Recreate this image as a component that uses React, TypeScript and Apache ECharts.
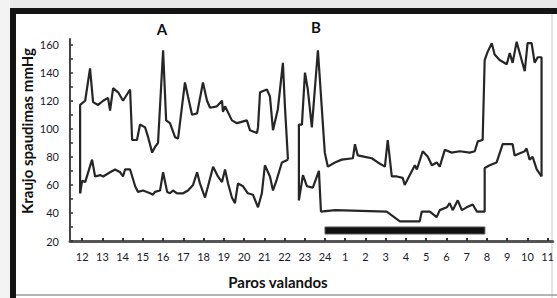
import React, { useEffect, useRef } from "react";
import * as echarts from "echarts";

// hours after 12:00 (0 = 12 h, 12 = 24 h, 13 = 1 h ...)
const hourTicks = [0, 1, 2, 3, 4, 5, 6, 7, 8, 9, 10, 11, 12, 13, 14, 15, 16, 17, 18, 19, 20, 21, 22, 23];
const yLabelValues = [20, 40, 60, 80, 100, 120, 140, 160];
const yTickValues = [20, 30, 40, 50, 60, 70, 80, 90, 100, 110, 120, 130, 140, 150, 160];

// systolic pressure [hour, mmHg]
const systolic: [number, number | null][] = [
  [-0.1, 54], [-0.1, 117], [0.15, 120], [0.39, 143], [0.54, 119], [0.79, 117], [1.04, 120], [1.28, 122],
  [1.38, 113], [1.53, 129], [1.78, 126], [2.02, 120], [2.37, 128], [2.47, 92], [2.71, 92], [2.86, 103],
  [3.11, 101], [3.26, 94], [3.46, 83], [3.6, 87], [3.75, 90], [4.0, 156], [4.15, 106], [4.34, 104],
  [4.59, 94], [4.74, 93], [5.08, 133], [5.23, 123], [5.43, 110], [5.68, 111], [5.97, 133], [6.17, 120],
  [6.32, 115], [6.66, 116], [6.91, 120], [6.96, 112], [7.06, 116], [7.4, 106], [7.65, 104], [8.14, 106],
  [8.29, 99], [8.64, 97], [8.69, 101], [8.79, 126], [9.13, 128], [9.28, 123], [9.43, 99], [9.67, 114],
  [9.92, 147], [10.02, 116], [10.17, 78], [10.45, null],
  [10.71, 49], [10.71, 103], [10.86, 103], [11.01, 140], [11.15, 128], [11.35, 101], [11.65, 156],
  [11.99, 83], [12.14, 73], [12.49, 76], [12.83, 78], [13.38, 79], [13.48, 89], [13.62, 81], [13.97, 80],
  [14.31, 79], [14.61, 76], [14.96, 73], [15.1, 92], [15.3, 66], [15.55, 66], [15.84, 65], [15.94, 60],
  [16.19, 67], [16.44, 74], [16.54, 71], [16.83, 84], [17.08, 80], [17.28, 74], [17.52, 76], [17.67, 73],
  [17.92, 85], [18.26, 83], [18.66, 84], [19.15, 83], [19.4, 84], [19.55, 91], [19.79, 92], [19.89, 149],
  [20.04, 155], [20.24, 161], [20.38, 153], [20.63, 149], [20.98, 146], [21.13, 154], [21.27, 147],
  [21.47, 162], [21.62, 154], [21.87, 141], [22.01, 161], [22.21, 161], [22.36, 147], [22.51, 151],
  [22.7, 151], [22.7, 66],
];

// diastolic pressure [hour, mmHg]
const diastolic: [number, number | null][] = [
  [-0.1, 54], [0.0, 63], [0.15, 62], [0.49, 78], [0.64, 66], [0.89, 67], [1.04, 66], [1.38, 69],
  [1.63, 71], [1.88, 69], [2.02, 66], [2.12, 71], [2.37, 71], [2.62, 59], [2.76, 55], [3.01, 56],
  [3.36, 54], [3.5, 53], [3.6, 55], [3.85, 56], [4.0, 69], [4.2, 55], [4.34, 54], [4.49, 56],
  [4.69, 54], [4.99, 54], [5.23, 56], [5.48, 60], [5.68, 69], [5.82, 61], [6.07, 51], [6.22, 59],
  [6.47, 73], [6.71, 66], [6.91, 62], [7.06, 71], [7.21, 61], [7.4, 51], [7.55, 47], [7.7, 61],
  [7.95, 59], [8.19, 54], [8.44, 53], [8.69, 44], [8.88, 54], [9.03, 74], [9.28, 66], [9.43, 56],
  [9.62, 64], [9.87, 76], [10.17, 78], [10.45, null],
  [10.71, 49], [10.91, 67], [11.11, 59], [11.4, 58], [11.7, 70], [11.8, 41], [12.5, 42], [15.05, 41],
  [15.7, 34], [16.68, 34], [16.78, 41], [17.18, 41], [17.52, 37], [17.67, 42], [18.02, 44], [18.16, 47],
  [18.31, 42], [18.56, 49], [18.76, 42], [19.0, 44], [19.3, 46], [19.5, 41], [19.89, 41], [19.89, 72],
  [20.14, 74], [20.48, 76], [20.78, 89], [21.27, 89], [21.37, 81], [21.87, 84], [21.96, 86], [22.11, 78],
  [22.26, 80], [22.46, 71], [22.7, 66],
];

// sleep period bar: [startHour, endHour], [low, high] mmHg
const sleepHours = [12.0, 19.9];
const sleepBand = [25, 30];

const FONT = "Lato, 'Liberation Sans', sans-serif";

export default function App() {
  const ref = useRef<HTMLDivElement>(null);
  useEffect(() => {
    if (!ref.current) return;
    const chart = echarts.init(ref.current, null, { renderer: "svg" });
    const lineStyle = { color: "#262626", width: 2.2 };
    chart.setOption({
      animation: false,
      backgroundColor: "#ffffff",
      grid: { left: 70, top: 39, right: 4, bottom: 57 },
      xAxis: {
        type: "value",
        min: -0.6,
        max: 23.25,
        splitLine: { show: false },
        axisLine: { show: true, onZero: false, lineStyle: { color: "#555", width: 3 } },
        axisTick: { show: true, inside: true, length: 3, customValues: hourTicks, lineStyle: { color: "#333", width: 2 } },
        axisLabel: {
          customValues: hourTicks,
          margin: 10,
          fontSize: 11,
          color: "#1a1a2a",
          fontFamily: FONT,
          formatter: (v: number) => String(((Math.round(v) + 12 - 1) % 24) + 1),
        },
      },
      yAxis: {
        type: "value",
        min: 20,
        max: 164,
        splitLine: { show: false },
        axisLine: { show: true, onZero: false, lineStyle: { color: "#444", width: 2 } },
        axisTick: { show: true, inside: true, length: 3, customValues: yTickValues, lineStyle: { color: "#333", width: 1.5 } },
        axisLabel: {
          customValues: yLabelValues,
          margin: 11,
          fontSize: 11,
          color: "#1a1a2a",
          fontFamily: FONT,
        },
      },
      series: [
        {
          type: "line",
          data: systolic,
          showSymbol: false,
          connectNulls: false,
          lineStyle,
          z: 3,
          markArea: {
            silent: true,
            itemStyle: { color: "#111", borderColor: "#555", borderWidth: 1 },
            data: [[
              { xAxis: sleepHours[0], yAxis: sleepBand[1] },
              { xAxis: sleepHours[1], yAxis: sleepBand[0] },
            ]],
          },
        },
        {
          type: "line",
          data: diastolic,
          showSymbol: false,
          connectNulls: false,
          lineStyle,
          z: 3,
        },
      ],
      graphic: [
        { type: "rect", shape: { x: 0, y: 0, width: 557, height: 8 }, style: { fill: "#e9e9e9" }, silent: true },
        { type: "rect", shape: { x: 0, y: 0, width: 10, height: 298 }, style: { fill: "#f3f3f3" }, silent: true },
        { type: "rect", shape: { x: 10, y: 8, width: 547, height: 6 }, style: { fill: "#141414" }, silent: true },
        { type: "rect", shape: { x: 10, y: 8, width: 6, height: 290 }, style: { fill: "#141414" }, silent: true },
        { type: "line", shape: { x1: 552, y1: 14, x2: 552, y2: 298 }, style: { stroke: "#c8c8c8", lineWidth: 1 }, silent: true },
        { type: "line", shape: { x1: 16, y1: 295, x2: 557, y2: 295 }, style: { stroke: "#9a9a9a", lineWidth: 1.5 }, silent: true },
        {
          type: "text", x: 162, y: 29,
          style: { text: "A", fontSize: 15, fontWeight: "bold", fill: "#111", fontFamily: FONT, align: "center", verticalAlign: "middle" },
        },
        {
          type: "text", x: 316, y: 27,
          style: { text: "B", fontSize: 15, fontWeight: "bold", fill: "#111", fontFamily: FONT, align: "center", verticalAlign: "middle" },
        },
        {
          type: "text", x: 278, y: 282,
          style: { text: "Paros valandos", fontSize: 15, fontWeight: "bold", fill: "#111", fontFamily: FONT, align: "center", verticalAlign: "middle" },
        },
        {
          type: "text", x: 27, y: 131, rotation: Math.PI / 2,
          style: { text: "Kraujo spaudimas mmHg", fontSize: 15, fontWeight: "bold", fill: "#111", fontFamily: FONT, align: "center", verticalAlign: "middle" },
        },
      ],
    });
    return () => chart.dispose();
  }, []);
  return (
    <div
      ref={ref}
      style={{ position: "fixed", left: 0, top: 0, width: 557, height: 298, background: "#fff" }}
    />
  );
}
